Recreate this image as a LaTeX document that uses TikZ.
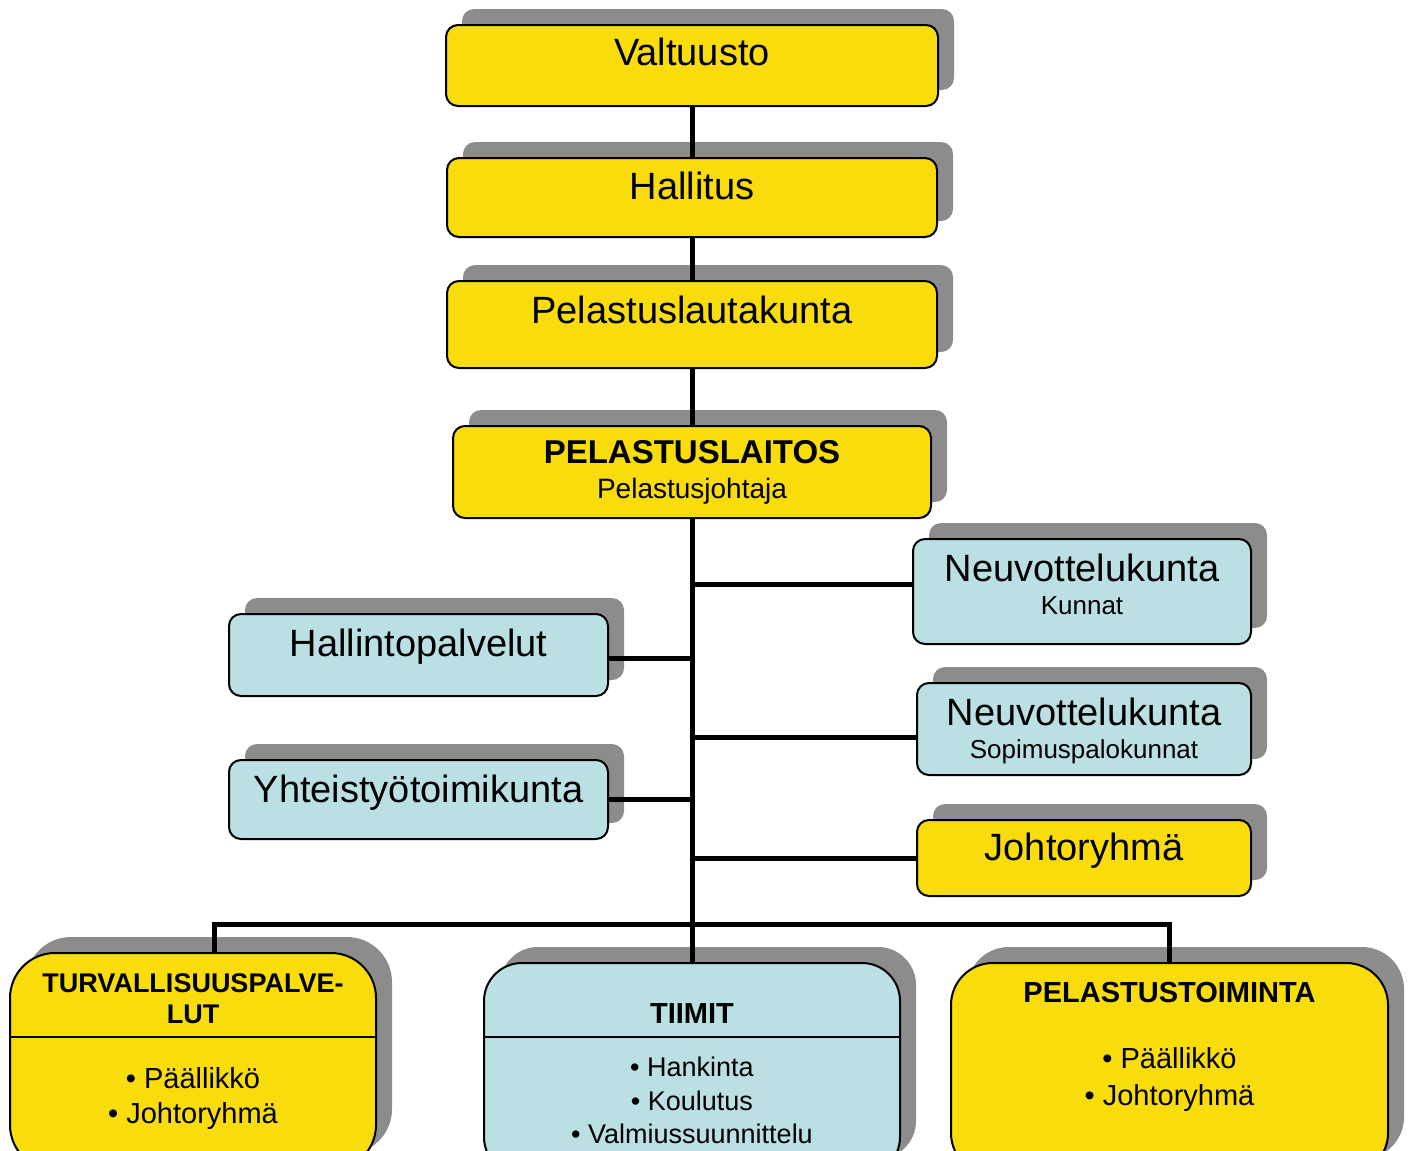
\documentclass[tikz,border=0pt]{standalone}
\usepackage{fontspec}
\setmainfont{Liberation Sans}
\usetikzlibrary{shadows,calc}
\definecolor{boxyellow}{HTML}{F8DC0B}
\definecolor{boxblue}{HTML}{BBE0E3}
\definecolor{shadowgray}{HTML}{8C8C8C}
\newcommand{\fsz}[1]{\fontsize{#1}{#1}\selectfont}
\tikzset{
  orgbox/.style={draw=black, line width=2pt, rounded corners=12pt, inner sep=0pt,
    general shadow={fill=shadowgray, shadow xshift=16pt, shadow yshift=16pt}},
  ybox/.style={orgbox, fill=boxyellow},
  bbox/.style={orgbox, fill=boxblue},
  lbl/.style={anchor=base, inner sep=0pt},
  conn/.style={line width=5pt},
  divider/.style={line width=2pt},
}
\begin{document}
\begin{tikzpicture}[x=1pt,y=1pt]
\useasboundingbox (0,0) rectangle (1408,-1151);
\clip (0,0) rectangle (1408,-1151);

% upper chain
\node[ybox, minimum width=492pt, minimum height=81pt] (val) at (692,-65.5) {};
\node[lbl, font=\fsz{38}] (valt) at (692,-65) {Valtuusto};

\node[ybox, minimum width=490pt, minimum height=79pt] (hal) at (692,-197.5) {};
\node[lbl, font=\fsz{38}] (halt) at (692,-199) {Hallitus};

\node[ybox, minimum width=490pt, minimum height=87pt] (plk) at (692,-324.5) {};
\node[lbl, font=\fsz{38}] (plkt) at (692,-323) {Pelastuslautakunta};

\node[ybox, minimum width=478pt, minimum height=92pt] (pl) at (692,-472) {};
\node[lbl, font=\bfseries\fsz{33}] (plt) at (692,-463) {PELASTUSLAITOS};
\node[lbl, font=\fsz{28}] (pls) at (692,-498) {Pelastusjohtaja};

% right side
\node[bbox, minimum width=338pt, minimum height=105pt] (nk) at (1082,-591.5) {};
\node[lbl, font=\fsz{38}] (nkt) at (1082,-581) {Neuvottelukunta};
\node[lbl, font=\fsz{26}] (nks) at (1082,-614) {Kunnat};

\node[bbox, minimum width=334pt, minimum height=92pt] (ns) at (1084,-729) {};
\node[lbl, font=\fsz{38}] (nst) at (1084,-725) {Neuvottelukunta};
\node[lbl, font=\fsz{26}] (nss) at (1084,-758) {Sopimuspalokunnat};

\node[ybox, minimum width=334pt, minimum height=76pt] (jr) at (1084,-858) {};
\node[lbl, font=\fsz{38}] (jrt) at (1084,-860) {Johtoryhmä};

% left side
\node[bbox, minimum width=379pt, minimum height=82pt] (hp) at (418.5,-655) {};
\node[lbl, font=\fsz{38}] (hpt) at (418.5,-656) {Hallintopalvelut};

\node[bbox, minimum width=379pt, minimum height=79pt] (yt) at (418.5,-799.5) {};
\node[lbl, font=\fsz{38}] (ytt) at (418.5,-802) {Yhteistyötoimikunta};

% bottom row
\node[ybox, rounded corners=45pt, minimum width=366pt, minimum height=217pt] (turv) at (193,-1061.5) {};
\node[lbl, font=\bfseries\fsz{27}] (turv1) at (193,-992) {TURVALLISUUSPALVE-};
\node[lbl, font=\bfseries\fsz{27}] (turv2) at (193,-1023) {LUT};
\draw[divider] (turv.west |- 0,-1037) -- (turv.east |- 0,-1037);
\node[lbl, font=\fsz{29}] (turv3) at (193,-1088) {• Päällikkö};
\node[lbl, font=\fsz{29}] (turv4) at (193,-1123) {• Johtoryhmä};

\node[bbox, rounded corners=38pt, minimum width=416pt, minimum height=212pt] (tm) at (692,-1069) {};
\node[lbl, font=\bfseries\fsz{29}] (tm1) at (692,-1023) {TIIMIT};
\draw[divider] (tm.west |- 0,-1037) -- (tm.east |- 0,-1037);
\node[lbl, font=\fsz{27}] (tm2) at (692,-1076) {• Hankinta};
\node[lbl, font=\fsz{27}] (tm3) at (692,-1110) {• Koulutus};
\node[lbl, font=\fsz{27}] (tm4) at (692,-1143) {• Valmiussuunnittelu};

\node[ybox, rounded corners=42pt, minimum width=437pt, minimum height=212pt] (pt) at (1169.5,-1069) {};
\node[lbl, font=\bfseries\fsz{29}] (pt1) at (1169.5,-1002) {PELASTUSTOIMINTA};
\node[lbl, font=\fsz{29}] (pt2) at (1169.5,-1068) {• Päällikkö};
\node[lbl, font=\fsz{29}] (pt3) at (1169.5,-1105) {• Johtoryhmä};

% connectors
\draw[conn] (val.south) -- (hal.north);
\draw[conn] (hal.south) -- (plk.north);
\draw[conn] (plk.south) -- (pl.north);
\draw[conn] (pl.south) -- (tm.north);

\coordinate (j1) at (692,-584);
\coordinate (j2) at (692,-658);
\coordinate (j3) at (692,-737);
\coordinate (j4) at (692,-799);
\coordinate (j5) at (692,-858);
\draw[conn] (j1) -- (j1 -| nk.west);
\draw[conn] (j2) -- (j2 -| hp.east);
\draw[conn] (j3) -- (j3 -| ns.west);
\draw[conn] (j4) -- (j4 -| yt.east);
\draw[conn] (j5) -- (j5 -| jr.west);

\coordinate (bl) at (214,-924);
\coordinate (br) at (1169.5,-924);
\draw[conn] (bl |- turv.north) -- (bl) -- (br) -- (br |- pt.north);
\end{tikzpicture}
\end{document}
